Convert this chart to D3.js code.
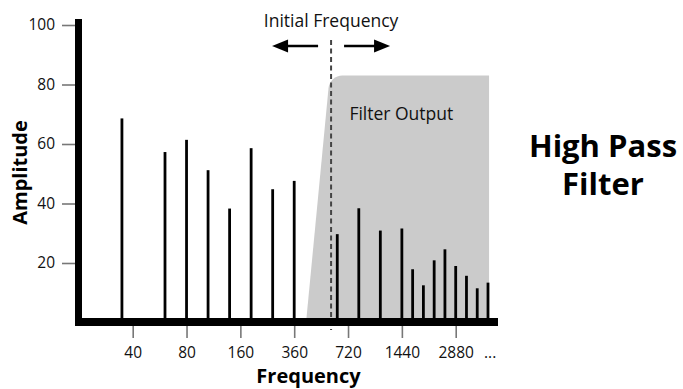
<!DOCTYPE html>
<html>
<head>
<meta charset="utf-8">
<script src="https://cdn.jsdelivr.net/npm/d3@7"></script>
<style>
  html, body { margin: 0; padding: 0; background: #fff; }
  svg { display: block; font-family: "Open Sans", "DejaVu Sans", sans-serif; }
</style>
</head>
<body>
<svg id="chart" width="683" height="389"></svg>
<script>
// ---- data ----
const tickPositions = [1, 2, 3, 4, 5, 6, 7];
const tickLabels = ["40", "80", "160", "360", "720", "1440", "2880"];
const yTickValues = [20, 40, 60, 80, 100];
const harmonicPositions = [0.8, 1.6, 2.0, 2.4, 2.8, 3.2, 3.6, 4.0, 4.8, 5.2, 5.6, 6.0, 6.2, 6.4, 6.6, 6.8, 7.0, 7.2, 7.4, 7.6];
const harmonicAmplitudes = [68.6, 57.3, 61.4, 51.2, 38.3, 58.6, 44.8, 47.6, 29.7, 38.4, 30.9, 31.6, 17.9, 12.5, 20.9, 24.6, 19.0, 15.7, 11.5, 13.4];
const filterPositions = [4.22, 4.66, 7.62, 7.62];
const filterAmplitudes = [0, 83, 83, 0];
const cutoffPosition = 4.685;

// ---- layout ----
const svg = d3.select("#chart");
const x = d3.scaleLinear().domain([1, 7]).range([132.7, 455.7]);
const y = d3.scaleLinear().domain([0, 100]).range([322.5, 25]);
const frameLeft = 75, frameRight = 498, frameBottom = 326, frameTop = 19;

// filter output shape with rounded top-left corner
const fp = filterPositions.map((p, i) => [x(p), y(filterAmplitudes[i])]);
const path = d3.path();
path.moveTo(fp[0][0], fp[0][1]);
path.arcTo(fp[1][0], fp[1][1], fp[2][0], fp[2][1], 14);
path.lineTo(fp[2][0], fp[2][1]);
path.lineTo(fp[3][0], fp[3][1]);
path.closePath();
svg.append("path").attr("d", path.toString()).attr("fill", "#cbcbcb");

svg.append("text")
  .attr("x", x(5.99)).attr("y", 119.5)
  .attr("text-anchor", "middle")
  .attr("font-size", 17.5)
  .attr("fill", "#111")
  .text("Filter Output");

// harmonics
svg.append("g").selectAll("line")
  .data(harmonicPositions.map((p, i) => ({ p, a: harmonicAmplitudes[i] })))
  .join("line")
  .attr("x1", d => x(d.p)).attr("x2", d => x(d.p))
  .attr("y1", y(0)).attr("y2", d => y(d.a))
  .attr("stroke", "#000").attr("stroke-width", 2.8);

// cutoff dashed line
svg.append("line")
  .attr("x1", x(cutoffPosition)).attr("x2", x(cutoffPosition))
  .attr("y1", 40).attr("y2", 330)
  .attr("stroke", "#444").attr("stroke-width", 2)
  .attr("stroke-dasharray", "5,3.5");

// arrows
const cx = x(cutoffPosition), ay = 46;
function arrow(from, to) {
  const dir = Math.sign(to - from);
  svg.append("line")
    .attr("x1", from).attr("x2", to - dir * 12).attr("y1", ay).attr("y2", ay)
    .attr("stroke", "#000").attr("stroke-width", 2.6);
  svg.append("path")
    .attr("d", `M${to},${ay} L${to - dir * 16},${ay - 6.5} L${to - dir * 16},${ay + 6.5} Z`)
    .attr("fill", "#000");
}
arrow(cx - 13, cx - 59);
arrow(cx + 13, cx + 59);

svg.append("text")
  .attr("x", cx).attr("y", 27)
  .attr("text-anchor", "middle")
  .attr("font-size", 17.5)
  .attr("fill", "#111")
  .text("Initial Frequency");

// y axis
const yAxis = svg.append("g")
  .attr("transform", `translate(${frameLeft},0)`)
  .call(d3.axisLeft(y).tickValues(yTickValues).tickSize(13).tickPadding(7));
yAxis.select(".domain").remove();
yAxis.selectAll(".tick line").attr("stroke", "#777").attr("stroke-width", 1.6);
yAxis.selectAll(".tick text").attr("font-size", 15.5).attr("fill", "#111")
  .attr("font-family", "Open Sans, sans-serif");

// x axis
const xAxis = svg.append("g")
  .attr("transform", `translate(0,${frameBottom})`)
  .call(d3.axisBottom(x).tickValues(tickPositions).tickFormat((d, i) => tickLabels[i]).tickSize(12));
xAxis.select(".domain").remove();
xAxis.selectAll(".tick line").attr("stroke", "#777").attr("stroke-width", 1.6);
xAxis.selectAll(".tick text").attr("font-size", 15.5).attr("fill", "#111")
  .attr("font-family", "Open Sans, sans-serif")
  .attr("y", 31.5).attr("dy", 0);

svg.append("text")
  .attr("x", x(7.64)).attr("y", 357.5)
  .attr("text-anchor", "middle")
  .attr("font-size", 15.5).attr("fill", "#111")
  .text("...");

// thick frame
svg.append("rect")
  .attr("x", frameLeft).attr("y", frameTop)
  .attr("width", 7).attr("height", frameBottom - frameTop)
  .attr("fill", "#000");
svg.append("rect")
  .attr("x", frameLeft).attr("y", frameBottom - 8)
  .attr("width", frameRight - frameLeft).attr("height", 8)
  .attr("fill", "#000");

// axis titles
svg.append("text")
  .attr("x", 308.5).attr("y", 382.5)
  .attr("text-anchor", "middle")
  .attr("font-size", 20).attr("font-weight", "bold").attr("fill", "#000")
  .text("Frequency");
svg.append("text")
  .attr("transform", "translate(27,172.5) rotate(-90)")
  .attr("text-anchor", "middle")
  .attr("font-size", 20).attr("font-weight", "bold").attr("fill", "#000")
  .text("Amplitude");

// side title
svg.append("text")
  .attr("x", 603).attr("y", 156.7)
  .attr("text-anchor", "middle")
  .attr("font-size", 31).attr("font-weight", "bold").attr("fill", "#000")
  .text("High Pass");
svg.append("text")
  .attr("x", 603).attr("y", 195)
  .attr("text-anchor", "middle")
  .attr("font-size", 31).attr("font-weight", "bold").attr("fill", "#000")
  .text("Filter");
</script>
</body>
</html>
